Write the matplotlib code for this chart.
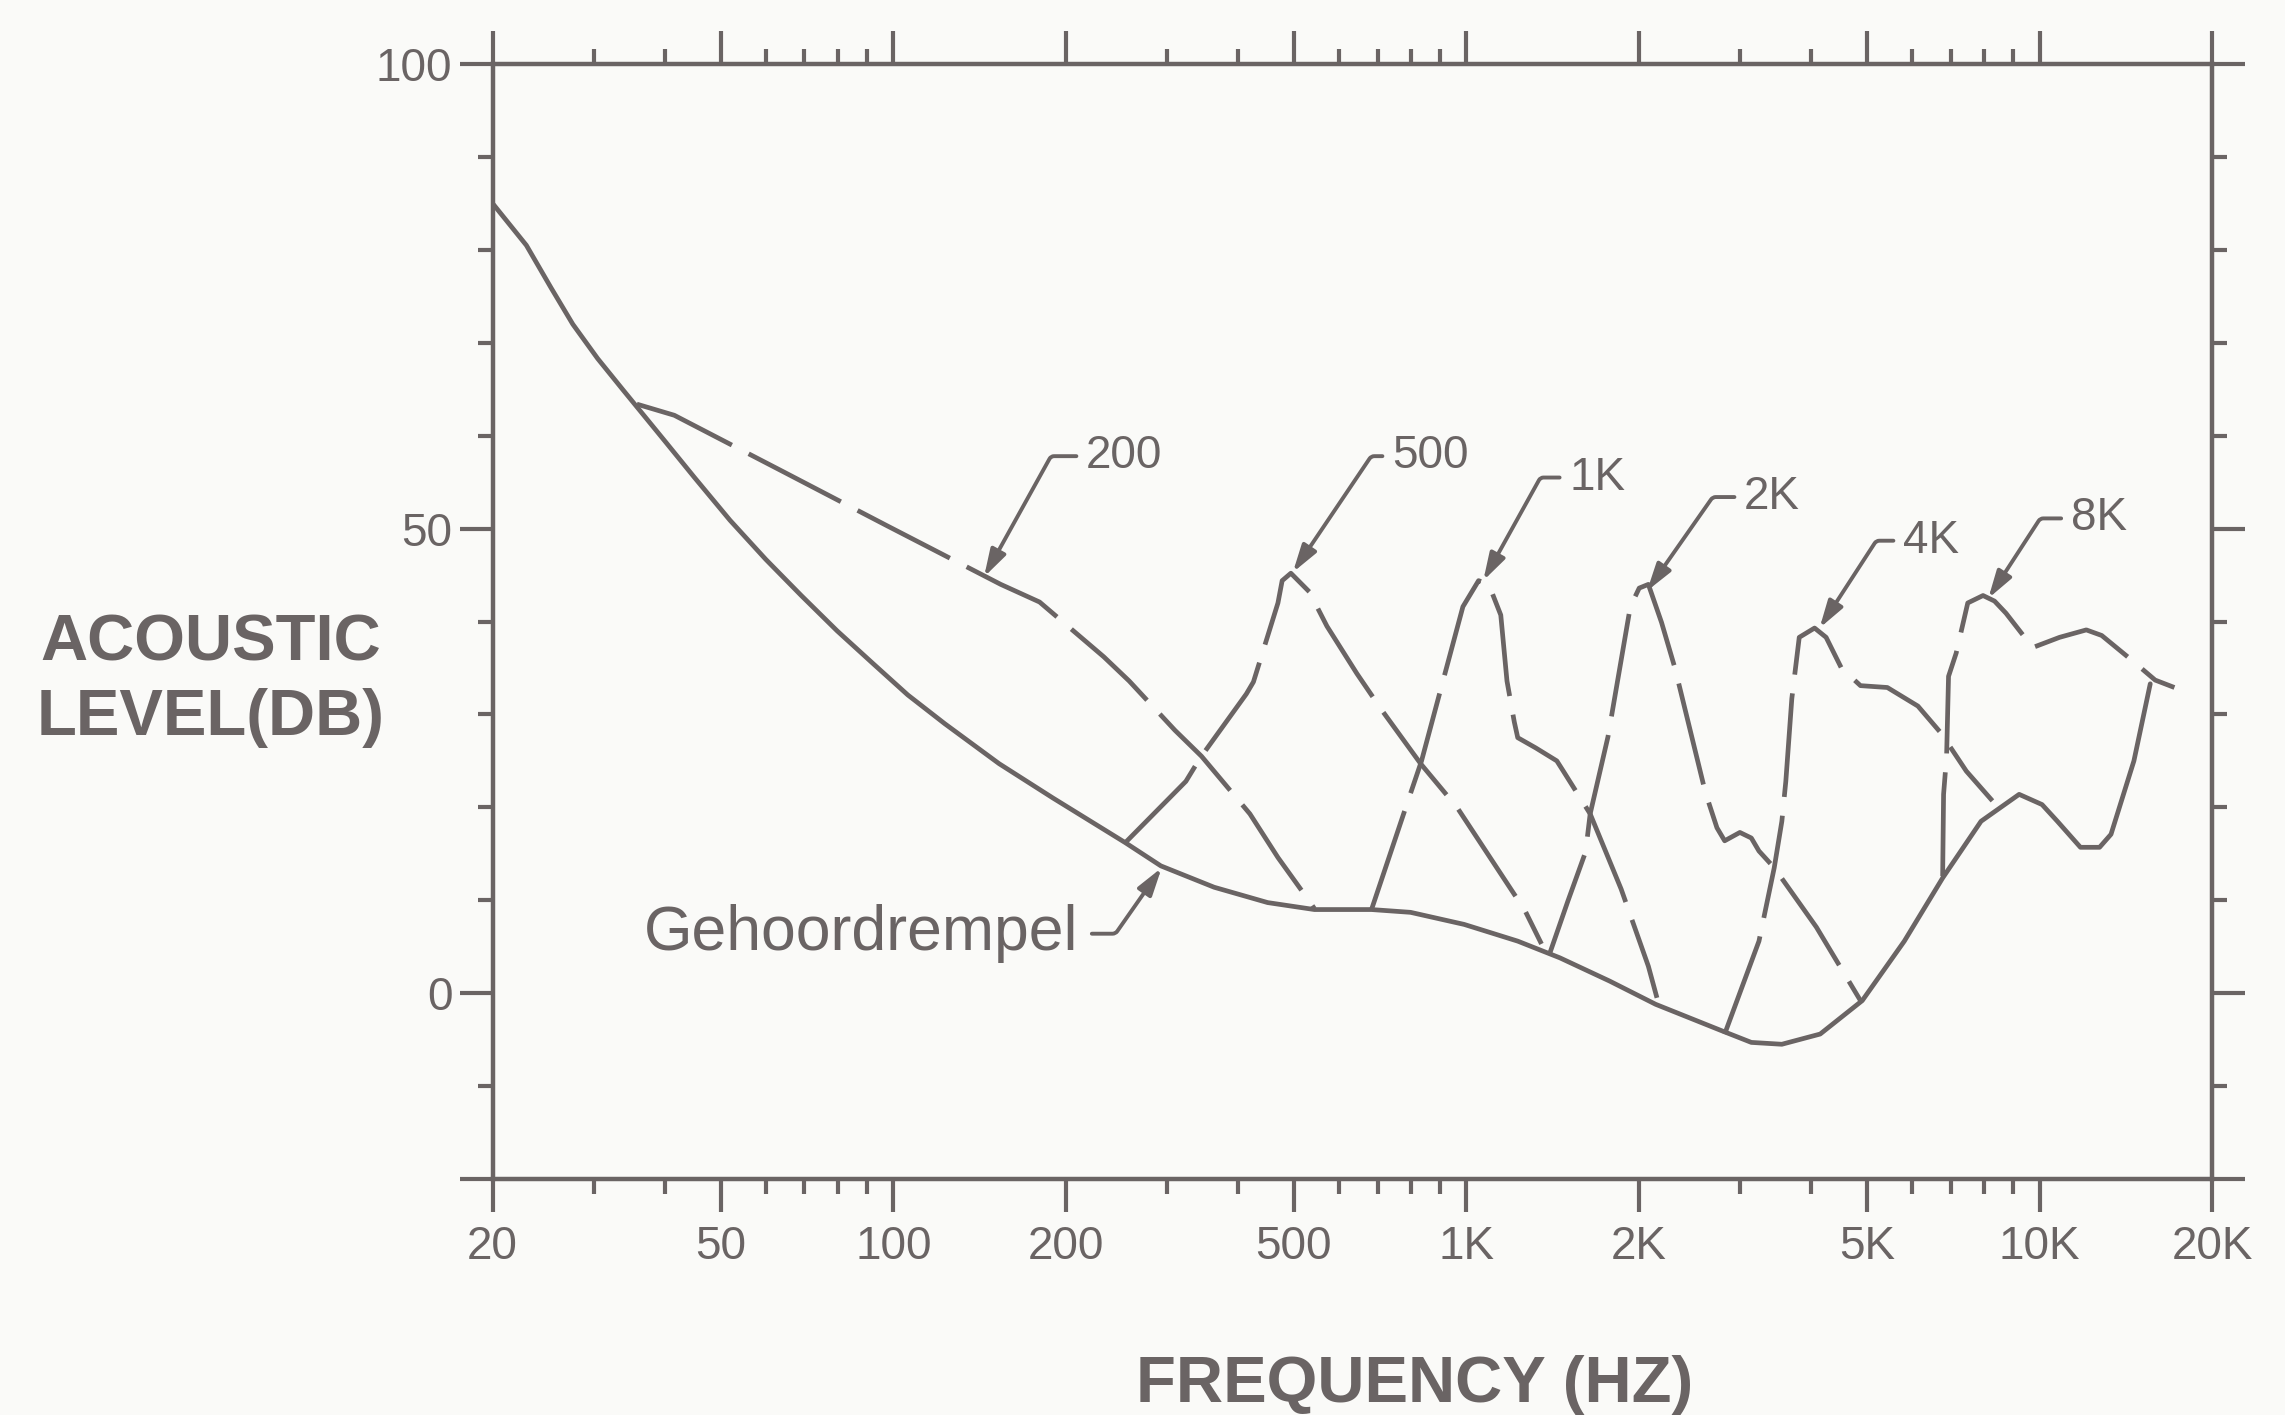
import matplotlib
matplotlib.use("Agg")
import matplotlib.pyplot as plt
from matplotlib.ticker import FixedLocator, NullFormatter, FixedFormatter

plt.rcParams['font.family'] = ['Liberation Sans', 'DejaVu Sans']

INK = '#6a6464'
BG = '#fafaf8'

# ---------------- data ----------------
thr_f = [20, 22.9, 25.3, 27.6, 30.5, 33.8, 40.1, 45.0, 51.9, 59.9, 69.1, 79.8, 92.1,
         106, 123, 153, 190, 254, 293, 363, 450, 543, 683, 799, 991, 1229, 1456, 1778,
         2139, 2777, 3141, 3551, 4142, 4905, 5808, 6775, 7904, 9212, 10100, 10742, 11784,
         12726, 13324, 14608, 15600]
thr_db = [85, 80.5, 75.9, 72.0, 68.3, 64.9, 59.3, 55.5, 50.9, 46.7, 42.8, 39.0, 35.5,
          32.1, 29.0, 24.7, 21.0, 16.2, 13.7, 11.4, 9.75, 9.0, 9.0, 8.7, 7.4, 5.6, 3.8, 1.3,
          -1.2, -4.0, -5.3, -5.5, -4.4, -0.8, 5.6, 12.4, 18.5, 21.4, 20.3, 18.5, 15.7,
          15.7, 17.1, 25.0, 33.3]

c200_f = [35.7, 41.5, 64.4, 97.6, 154, 180, 233, 258, 310, 345, 419, 469, 532, 543]
c200_db = [63.4, 62.2, 56.1, 50.3, 44.0, 42.1, 36.2, 33.6, 28.3, 25.5, 19.3, 14.6, 9.9, 9.1]

c500_f = [254, 324, 343, 413, 425, 469, 477, 494, 532, 571, 644, 713, 832, 963, 1265, 1352]
c500_db = [16.2, 22.8, 25.3, 32.2, 33.5, 42.0, 44.4, 45.2, 43.2, 39.5, 34.4, 30.4, 24.7,
           20.0, 8.9, 5.3]

c1k_f = [683, 777, 835, 884, 986, 1050, 1094, 1148, 1177, 1212, 1229, 1321, 1438, 1476,
         1644, 1862, 2077, 2150]
c1k_db = [9.0, 19.3, 25.0, 30.7, 41.6, 44.4, 44.0, 40.7, 33.6, 29.2, 27.5, 26.4, 25.0, 23.9,
          19.3, 11.2, 2.9, -0.5]

c2k_f = [1398, 1503, 1614, 1644, 1766, 1932, 2002, 2077, 2190, 2311, 2612, 2736, 2822, 3000,
         3141, 3239, 3444, 4080, 4870]
c2k_db = [4.3, 9.9, 15.2, 19.3, 27.6, 41.6, 43.6, 44.0, 39.9, 35.0, 21.6, 17.8, 16.4, 17.3,
          16.7, 15.3, 13.5, 7.1, -0.8]

c4k_f = [2822, 3239, 3444, 3551, 3608, 3696, 3808, 4050, 4242, 4510, 4870, 5425, 6134, 6729,
         7450, 8274]
c4k_db = [-4.4, 5.6, 13.5, 18.5, 22.8, 31.7, 38.3, 39.3, 38.3, 35.0, 33.1, 32.9, 30.9, 28.0,
          23.9, 20.7]

c8k_f = [6775, 6800, 6883, 6937, 7153, 7494, 7968, 8345, 8737, 9727, 10837, 12066, 12836,
         14510, 15910, 17190]
c8k_db = [12.6, 21.4, 25.5, 34.1, 36.6, 42.0, 42.8, 42.2, 40.9, 37.2, 38.3, 39.1, 38.5, 35.8,
          33.7, 32.9]

masking_curves = [(c200_f, c200_db), (c500_f, c500_db), (c1k_f, c1k_db),
                  (c2k_f, c2k_db), (c4k_f, c4k_db), (c8k_f, c8k_db)]

# labels: text, target (f, dB), label anchor (f, dB), arrow angle at target
ann_labels = ['200', '500', '1K', '2K', '4K', '8K']
ann_target_f = [144, 498, 1070, 2066, 4132, 8140]
ann_target_db = [44.8, 45.3, 44.4, 43.3, 39.3, 42.5]
ann_text_f = [217, 742, 1512, 3052, 5780, 11340]
ann_text_db = [57.8, 57.8, 55.5, 53.4, 48.7, 51.1]
ann_angle = [61, 56, 61, 55, 57, 57]

thr_label = 'Gehoordrempel'
thr_target = (294, 13.5)
thr_text = (210, 6.4)

x_major = [20, 50, 100, 200, 500, 1000, 2000, 5000, 10000, 20000]
x_major_labels = ['20', '50', '100', '200', '500', '1K', '2K', '5K', '10K', '20K']
x_minor = [30, 40, 60, 70, 80, 90, 300, 400, 600, 700, 800, 900,
           3000, 4000, 6000, 7000, 8000, 9000]
y_major = [-20, 0, 50, 100]
y_major_labels = ['', '0', '50', '100']
y_minor = [-10, 10, 20, 30, 40, 60, 70, 80, 90]

# ---------------- figure ----------------
fig = plt.figure(figsize=(22.85, 14.15), dpi=100, facecolor=BG)
ax = fig.add_axes([0.2156, 0.1668, 0.7525, 0.7879], facecolor=BG)
ax.set_xscale('log')
ax.set_xlim(20, 20000)
ax.set_ylim(-20, 100)

ax.plot(thr_f, thr_db, color=INK, lw=3.4, solid_joinstyle='round', solid_capstyle='round')
for f, db in masking_curves:
    ax.plot(f, db, color=INK, lw=3.4, linestyle=(0, (22, 4)),
            dash_joinstyle='round', dash_capstyle='butt')

for lab, tf, tdb, lf, ldb, ang in zip(ann_labels, ann_target_f, ann_target_db,
                                      ann_text_f, ann_text_db, ann_angle):
    ax.annotate(lab, xy=(tf, tdb), xytext=(lf, ldb), ha='left', va='center',
                fontsize=33, color=INK,
                arrowprops=dict(arrowstyle='-|>,head_length=0.5,head_width=0.15',
                                color=INK, lw=2.8, relpos=(0, 0.5), shrinkA=5, shrinkB=0,
                                connectionstyle=f'angle,angleA=0,angleB={ang},rad=3'))

ax.annotate(thr_label, xy=thr_target, xytext=thr_text, ha='right', va='center',
            fontsize=45, color=INK,
            arrowprops=dict(arrowstyle='-|>,head_length=0.37,head_width=0.11',
                            color=INK, lw=2.8, relpos=(1, 0.5), shrinkA=8, shrinkB=0,
                            connectionstyle='angle,angleA=0,angleB=55,rad=3'))

# ticks
ax.xaxis.set_major_locator(FixedLocator(x_major))
ax.xaxis.set_major_formatter(FixedFormatter(x_major_labels))
ax.xaxis.set_minor_locator(FixedLocator(x_minor))
ax.xaxis.set_minor_formatter(NullFormatter())
ax.yaxis.set_major_locator(FixedLocator(y_major))
ax.yaxis.set_major_formatter(FixedFormatter(y_major_labels))
ax.yaxis.set_minor_locator(FixedLocator(y_minor))
ax.yaxis.set_minor_formatter(NullFormatter())

ax.tick_params(which='major', direction='out', length=24, width=3, color=INK,
               top=True, right=True, labelsize=33, labelcolor=INK)
ax.tick_params(which='minor', direction='out', length=11, width=3, color=INK,
               top=True, right=True)
ax.tick_params(axis='x', which='major', pad=9)
ax.tick_params(axis='y', which='major', pad=5)

for sp in ax.spines.values():
    sp.set_color(INK)
    sp.set_linewidth(3.2)

fig.text(0.0923, 0.519, 'ACOUSTIC\nLEVEL(DB)', ha='center', va='center',
         fontsize=47, fontweight='bold', color=INK, linespacing=1.3)
fig.text(0.619, 0.021, 'FREQUENCY (HZ)', ha='center', va='center',
         fontsize=47, fontweight='bold', color=INK)

fig.savefig('out.png', dpi=100, facecolor=BG)
